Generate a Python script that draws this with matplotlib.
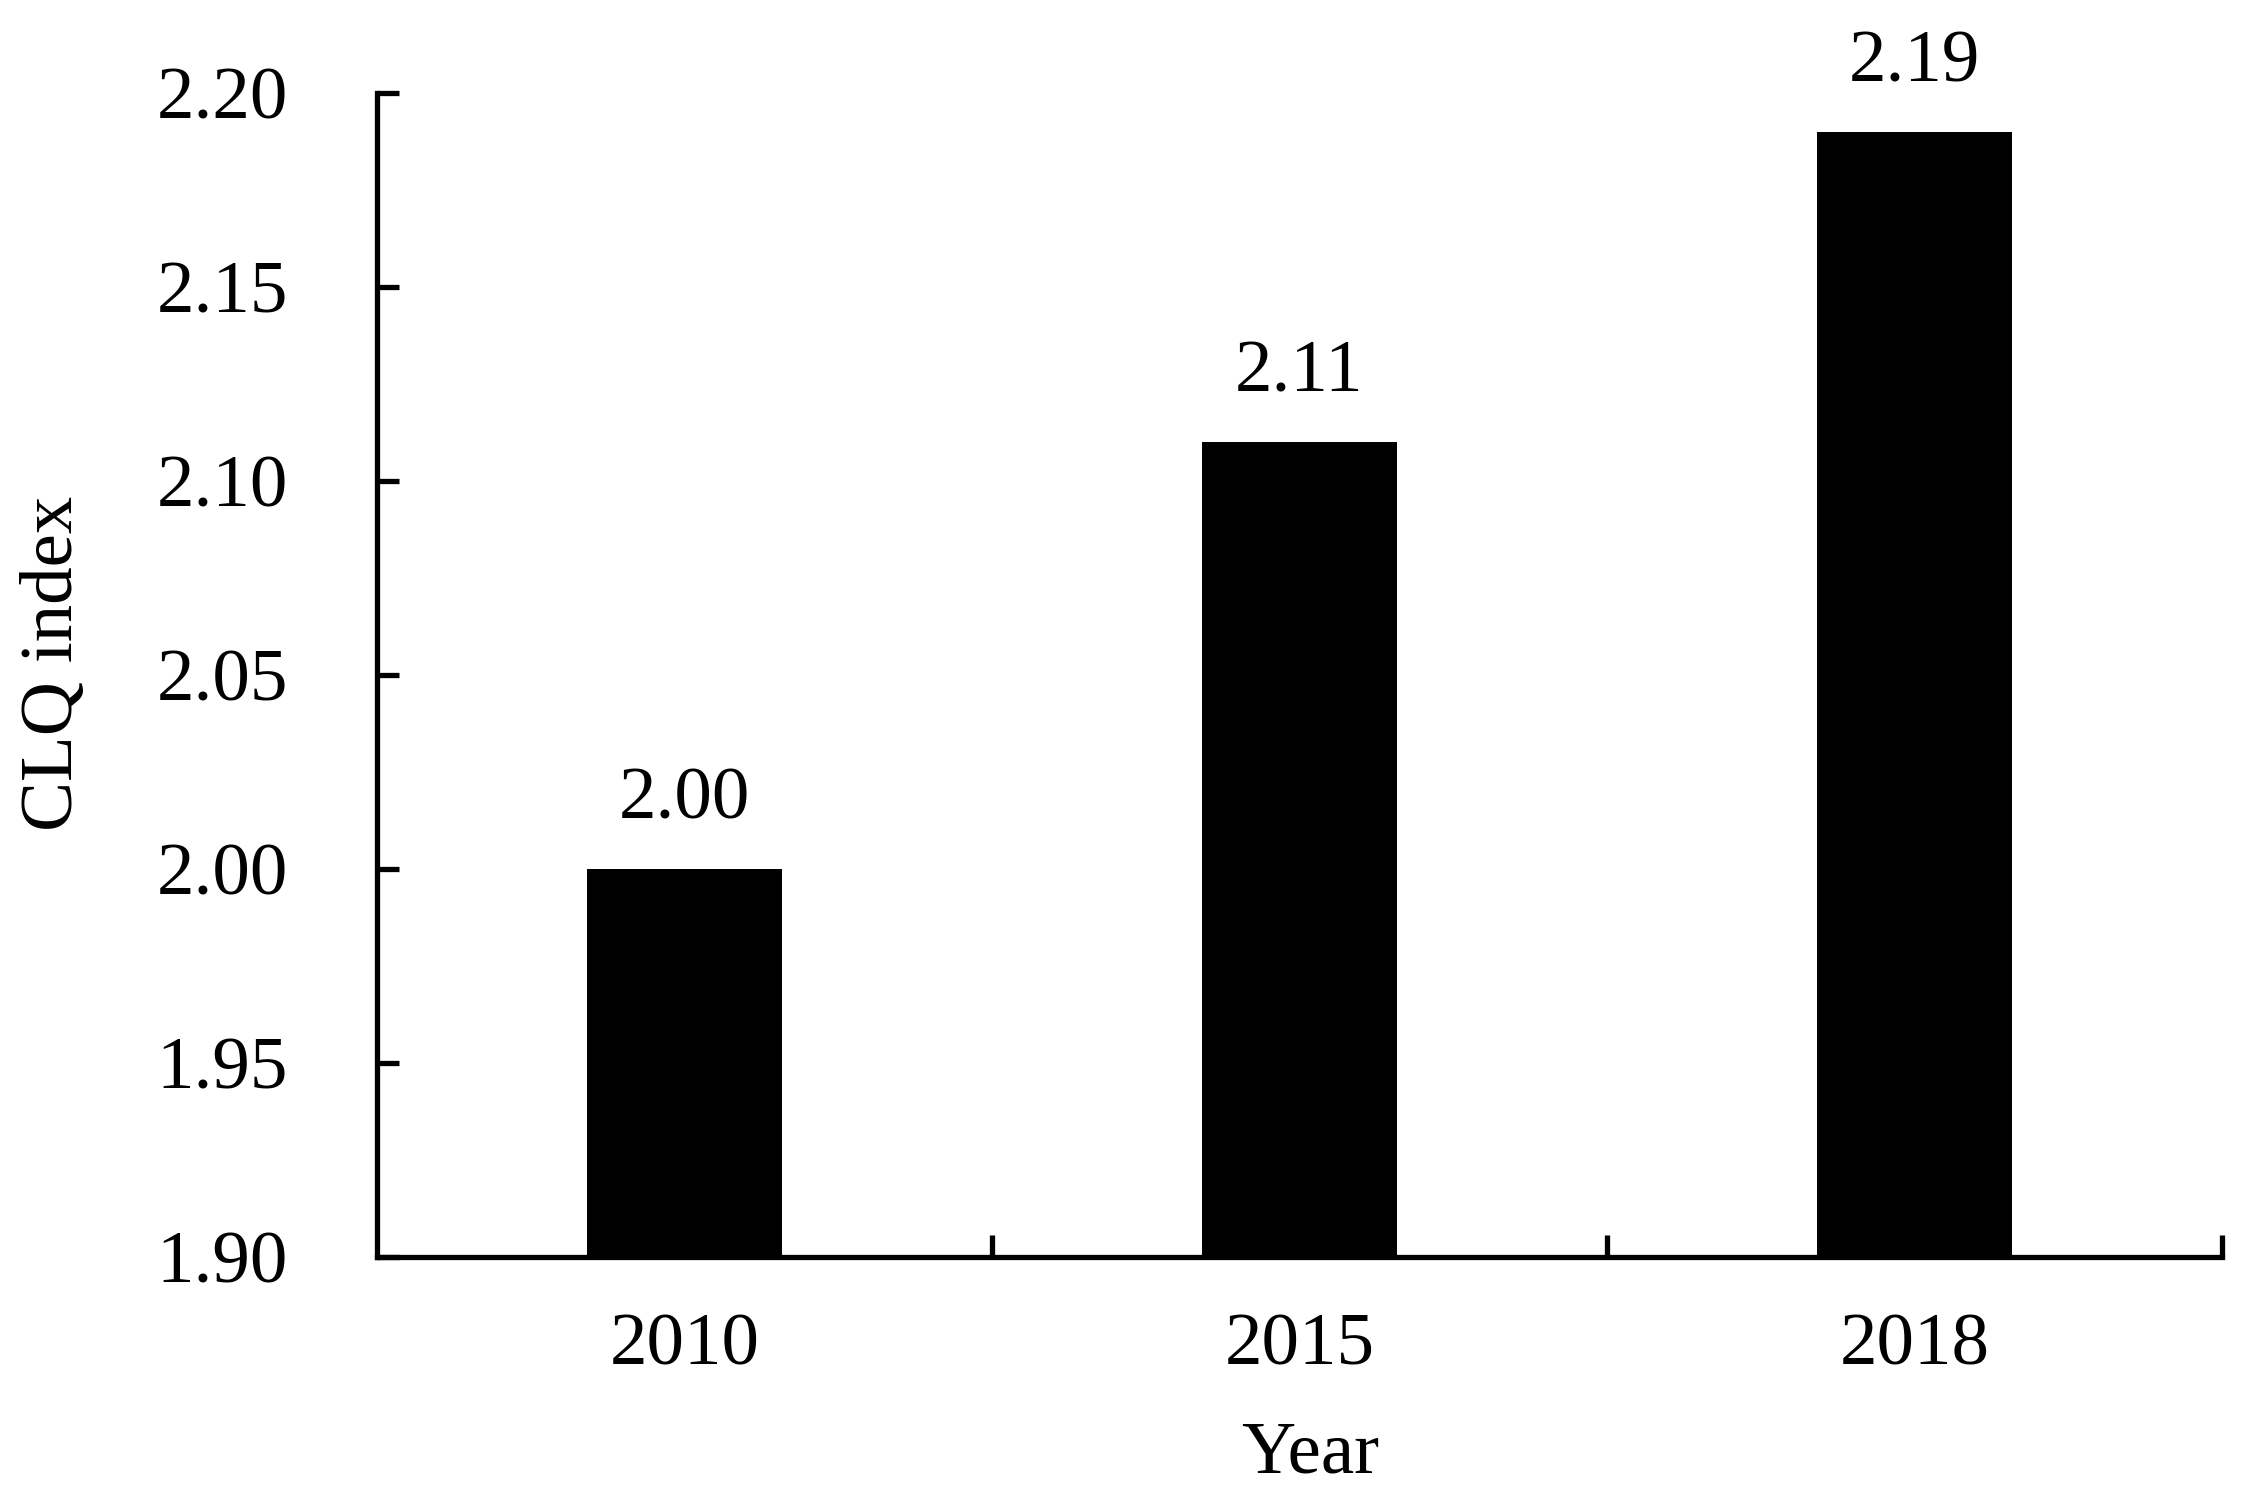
import numpy as np
import matplotlib
matplotlib.use("Agg")
import matplotlib.pyplot as plt

years = ["2010", "2015", "2018"]
clq = [2.00, 2.11, 2.19]
value_labels = ["2.00", "2.11", "2.19"]
yticks = [1.90, 1.95, 2.00, 2.05, 2.10, 2.15, 2.20]

plt.rcParams["font.family"] = ["Liberation Serif", "DejaVu Serif"]

fig = plt.figure(figsize=(11.24, 7.475), dpi=200)
ax = fig.add_axes([0.1677, 0.1592, 0.8207, 0.7786])

x = np.arange(len(years))
ax.bar(x, clq, width=0.316, color="black", zorder=2)

for xi, v, lab in zip(x, clq, value_labels):
    ax.annotate(lab, (xi, v), xytext=(0, 12.5), textcoords="offset points",
                ha="center", va="bottom", fontsize=27)

ax.set_xlim(-0.5, 2.5)
ax.set_ylim(1.90, 2.20)
ax.set_yticks(yticks)
ax.set_yticklabels(["%.2f" % t for t in yticks])

# boundary ticks between categories, labels at the centres
ax.set_xticks([0.5, 1.5, 2.5])
ax.set_xticklabels([])
ax.set_xticks(x, minor=True)
ax.set_xticklabels(years, minor=True)

ax.tick_params(axis="y", direction="in", length=8, width=1.9, labelsize=27, pad=32)
ax.tick_params(axis="x", which="major", direction="in", length=8, width=1.9)
ax.tick_params(axis="x", which="minor", length=0, labelsize=27, pad=20)

for s in ["top", "right"]:
    ax.spines[s].set_visible(False)
for s in ["left", "bottom"]:
    ax.spines[s].set_linewidth(1.9)

ax.set_ylabel("CLQ index", fontsize=27)
ax.yaxis.set_label_coords(-0.175, 0.51)
ax.yaxis.label.set_va("center")
ax.set_xlabel("Year", fontsize=27)
ax.xaxis.set_label_coords(0.506, -0.17)
ax.xaxis.label.set_va("center")

fig.savefig("out.png", dpi=200)
